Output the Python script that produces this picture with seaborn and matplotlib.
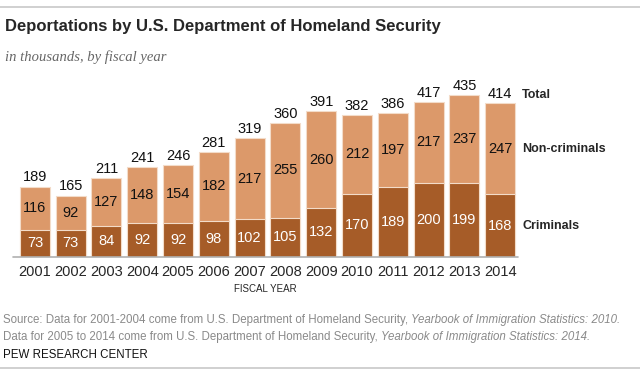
import matplotlib.pyplot as plt
import seaborn as sns
import numpy as np
import pandas as pd
from matplotlib.lines import Line2D

years = ["2001", "2002", "2003", "2004", "2005", "2006", "2007",
         "2008", "2009", "2010", "2011", "2012", "2013", "2014"]
criminals = [73, 73, 84, 92, 92, 98, 102, 105, 132, 170, 189, 200, 199, 168]
non_criminals = [116, 92, 127, 148, 154, 182, 217, 255, 260, 212, 197, 217, 237, 247]
totals = [189, 165, 211, 241, 246, 281, 319, 360, 391, 382, 386, 417, 435, 414]

df = pd.DataFrame({"year": years, "crim": criminals, "noncrim": non_criminals, "total": totals})

dark = "#a65c28"
light = "#dc996a"

sns.set_style("white")
plt.rcParams["font.family"] = ["Liberation Sans Narrow", "Liberation Sans", "DejaVu Sans"]

fig = plt.figure(figsize=(6.4, 3.85), dpi=100)
ax = fig.add_axes([17 / 640, 128 / 385, 501 / 640, 167.5 / 385])

# stacked look: full-height light bar, criminals drawn over it
sns.barplot(data=df, x="year", y="total", color=light, width=0.84, ax=ax,
            saturation=1, edgecolor="#f3dcc9", linewidth=0.8)
sns.barplot(data=df, x="year", y="crim", color=dark, width=0.84, ax=ax,
            saturation=1, edgecolor="#f3dcc9", linewidth=0.8)

ax.set_xlim(-0.5, 13.5)
ax.set_ylim(0, 450)
for s in ax.spines.values():
    s.set_visible(False)
ax.set_yticks([])
ax.set_xlabel("")
ax.set_ylabel("")
ax.tick_params(axis="x", length=0, pad=6, labelsize=10.5)
ax.plot([-0.6, 13.5], [0, 0], color="#b0b0b0", lw=1.2, clip_on=False)

for i in range(len(years)):
    ax.text(i, totals[i] + 6, str(totals[i]), ha="center", va="bottom", fontsize=10.5, color="#111111")
    ax.text(i, criminals[i] + (totals[i] - criminals[i]) / 2, str(non_criminals[i]),
            ha="center", va="center", fontsize=10.5, color="#111111")
    ax.text(i, criminals[i] / 2, str(criminals[i]), ha="center", va="center",
            fontsize=10.5, color="white")

last = len(years) - 1
ax.text(13.62, totals[last] + 6, "Total", ha="left", va="bottom", fontsize=9, fontweight="bold")
ax.text(13.62, criminals[last] + (totals[last] - criminals[last]) / 2, "Non-criminals",
        ha="left", va="center", fontsize=9, fontweight="bold")
ax.text(13.62, criminals[last] / 2, "Criminals", ha="left", va="center", fontsize=9, fontweight="bold")

fig.canvas.draw()
renderer = fig.canvas.get_renderer()


def two_part(y, plain, ital):
    t = fig.text(3 / 640, 1 - y / 385, plain, ha="left", va="center", fontsize=8.3, color="#8a8a8a")
    bb = t.get_window_extent(renderer=renderer)
    fig.text(bb.x1 / 640, 1 - y / 385, ital, ha="left", va="center", fontsize=8.3,
             color="#8a8a8a", style="italic")


fig.text(265 / 640, 1 - 289 / 385, "FISCAL YEAR", ha="center", va="center", fontsize=7)
fig.text(5 / 640, 1 - 27 / 385, "Deportations by U.S. Department of Homeland Security",
         ha="left", va="center", fontsize=12, fontweight="bold",
         family=["Liberation Sans", "DejaVu Sans"])
fig.text(5 / 640, 1 - 57 / 385, "in thousands, by fiscal year", ha="left", va="center",
         fontsize=10.5, style="italic", color="#666666", family=["Liberation Serif", "DejaVu Serif"])
two_part(320, "Source: Data for 2001-2004 come from U.S. Department of Homeland Security, ",
         "Yearbook of Immigration Statistics: 2010.")
two_part(337, "Data for 2005 to 2014 come from U.S. Department of Homeland Security, ",
         "Yearbook of Immigration Statistics: 2014.")
fig.text(3 / 640, 1 - 355 / 385, "PEW RESEARCH CENTER", ha="left", va="center",
         fontsize=8.3, color="#111111")

fig.add_artist(Line2D([0, 1], [1 - 7 / 385, 1 - 7 / 385], color="#c8c8c8", lw=1.2))
fig.add_artist(Line2D([0, 1], [1 - 368 / 385, 1 - 368 / 385], color="#c8c8c8", lw=1.2))

fig.savefig("out.png", dpi=100)
